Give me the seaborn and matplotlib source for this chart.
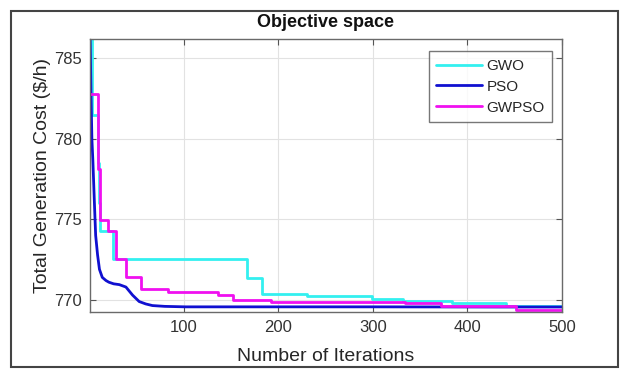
import numpy as np
import pandas as pd
import matplotlib
matplotlib.use("Agg")
import matplotlib.pyplot as plt
import seaborn as sns
from matplotlib.patches import Rectangle

# convergence curves (breakpoints of each step)
gwo_iter = [1, 3, 9, 10, 12, 25, 167, 183, 230, 299, 332, 384, 441, 500]
gwo_cost = [786.5, 781.5, 778.5, 776.0, 774.3, 772.55, 771.35, 770.35, 770.23,
            770.06, 769.95, 769.78, 769.6, 769.6]

pso_iter = [1, 2, 3, 4, 6, 7, 9, 11, 14, 18, 21, 26, 32, 39, 46, 53, 60, 67,
            80, 102, 200, 300, 434, 500]
pso_cost = [787.0, 783.0, 780.0, 778.7, 775.5, 774.0, 772.8, 771.9, 771.4,
            771.2, 771.1, 771.0, 770.95, 770.8, 770.3, 769.9, 769.75, 769.65,
            769.6, 769.57, 769.57, 769.57, 769.56, 769.56]

gwpso_iter = [1, 9, 12, 20, 28, 39, 55, 84, 136, 152, 192, 334, 372, 451, 500]
gwpso_cost = [782.8, 778.1, 774.95, 774.25, 772.55, 771.4, 770.7, 770.5, 770.3,
              769.98, 769.9, 769.78, 769.6, 769.36, 769.36]

x_ticks = [100, 200, 300, 400, 500]
y_ticks = [770, 775, 780, 785]

sns.set_style("whitegrid")
plt.rcParams['font.family'] = ['Liberation Sans', 'DejaVu Sans']

fig = plt.figure(figsize=(6.36, 3.85), dpi=100)
ax = fig.add_axes([0.1415, 0.1896, 0.742, 0.709])

gwo = pd.DataFrame({'it': gwo_iter, 'cost': gwo_cost})
pso = pd.DataFrame({'it': pso_iter, 'cost': pso_cost})
gwpso = pd.DataFrame({'it': gwpso_iter, 'cost': gwpso_cost})

sns.lineplot(data=gwo, x='it', y='cost', ax=ax, color='#33f0f0', lw=2,
             drawstyle='steps-post', label='GWO')
sns.lineplot(data=pso, x='it', y='cost', ax=ax, color='#1010d0', lw=2,
             label='PSO')
sns.lineplot(data=gwpso, x='it', y='cost', ax=ax, color='#f010f0', lw=2,
             drawstyle='steps-post', label='GWPSO')

ax.set_xlim(1, 500)
ax.set_ylim(769.25, 786.2)
ax.set_xticks(x_ticks)
ax.set_yticks(y_ticks)
ax.grid(True, color='#e2e2e2', lw=0.8)
for s in ax.spines.values():
    s.set_color('#6a6a6a')
    s.set_linewidth(1.0)
ax.tick_params(direction='in', length=4, color='#555555', labelsize=12,
               labelcolor='#333333', top=True, right=True, left=True,
               bottom=True, pad=6)

ax.set_xlabel('Number of Iterations', fontsize=14, color='#262626', labelpad=9)
ax.set_ylabel('Total Generation Cost ($/h)', fontsize=14, color='#262626',
              labelpad=2)
ax.set_title('Objective space', fontsize=13, fontweight='bold',
             color='#111111', pad=9)

leg = ax.legend(loc='upper right', bbox_to_anchor=(0.98, 0.955), fontsize=11,
                frameon=True, fancybox=False, handlelength=3.0,
                handletextpad=0.3, borderpad=0.5, labelspacing=0.45,
                borderaxespad=0)
leg.get_frame().set_edgecolor('#555555')
leg.get_frame().set_linewidth(1.0)

fig.patches.append(Rectangle((11 / 636, 1 - 367 / 385), 607 / 636, 356 / 385,
                             transform=fig.transFigure, fill=False,
                             edgecolor='#444444', lw=1.5))

fig.savefig('out.png', dpi=100)
